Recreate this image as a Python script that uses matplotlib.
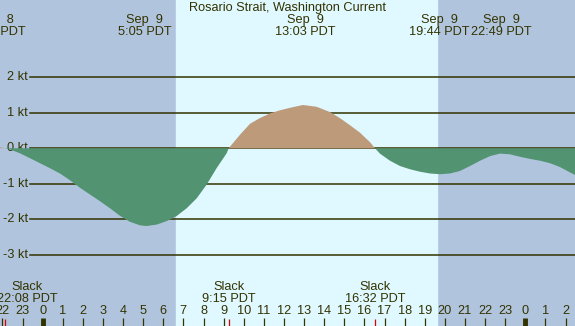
import matplotlib
matplotlib.use("Agg")
import matplotlib.pyplot as plt
import matplotlib.transforms as mtransforms
import numpy as np

plt.rcParams['font.family'] = ['Liberation Sans', 'DejaVu Sans']

title = "Rosario Strait, Washington Current"

# current speed (kt), hours since midnight Sep 9 (PDT)
hours = [-2.12, -1.87, -1.63, -1.13, -0.63, -0.13, 0.36, 0.86, 1.36, 1.85,
         2.35, 2.85, 3.35, 3.84, 4.34, 4.84, 5.17, 5.67, 6.17, 6.66,
         7.16, 7.66, 8.16, 8.65, 9.15, 9.25, 9.81, 10.31, 10.8, 11.3,
         11.8, 12.3, 12.94, 13.62, 14.29, 14.78, 15.28, 15.78, 16.28, 16.53,
         16.77, 17.27, 17.77, 18.26, 18.76, 19.26, 19.76, 20.25, 20.75, 21.25,
         21.75, 22.25, 22.74, 23.24, 23.74, 24.24, 24.73, 25.23, 25.73, 26.22,
         26.47]
speed = [0.03, 0.0, -0.03, -0.14, -0.28, -0.42, -0.56, -0.71, -0.90, -1.11,
         -1.30, -1.49, -1.69, -1.90, -2.07, -2.17, -2.19, -2.15, -2.05, -1.91,
         -1.69, -1.41, -1.02, -0.56, -0.14, 0.0, 0.38, 0.69, 0.85, 0.98,
         1.07, 1.14, 1.22, 1.17, 1.02, 0.85, 0.65, 0.44, 0.17, 0.0,
         -0.15, -0.35, -0.50, -0.59, -0.66, -0.71, -0.73, -0.71, -0.64, -0.50,
         -0.35, -0.22, -0.15, -0.17, -0.24, -0.30, -0.35, -0.42, -0.53, -0.68,
         -0.75]

# max ebb / flood events shown at the top
event_hours = [-2.35, 5.083, 13.05, 19.733, 22.817]
event_dates = ["Sep  8", "Sep  9", "Sep  9", "Sep  9", "Sep  9"]
event_times = ["21:39 PDT", "5:05 PDT", "13:03 PDT", "19:44 PDT", "22:49 PDT"]

# slack water
slack_hours = [-1.867, 9.25, 16.533]
slack_times = ["22:08 PDT", "9:15 PDT", "16:32 PDT"]

sunrise, sunset = 6.63, 19.6
hour_ticks = list(range(-2, 27))
hour_labels = [str(h % 24) for h in hour_ticks]
kt_levels = [2, 1, 0, -1, -2, -3]

night = "#b0c4de"
day = "#e0f8ff"
ebb = "#529471"
flood = "#bd9b7a"
ink = "#333300"
fs = 9.2

W, H = 575, 326
fig = plt.figure(figsize=(W / 100, H / 100), dpi=100)
ax = fig.add_axes([0, 0, 1, 1])
ax.set_xlim(-2.12, 26.47)
ax.set_ylim(-5.006, 4.177)
ax.axis('off')
fig.patch.set_facecolor(night)

# day / night background
ax.axvspan(-3, 30, color=night, zorder=0)
ax.axvspan(sunrise, sunset, color=day, zorder=0.5)

# x in data, y in pixels from top
trans = mtransforms.blended_transform_factory(ax.transData, ax.transAxes)
ytrans = mtransforms.blended_transform_factory(ax.transAxes, ax.transData)
def yfrac(px):
    return 1 - px / H

for lvl in kt_levels:
    ax.axhline(lvl, xmin=30 / W, xmax=1, color=ink, lw=1.1, zorder=1)
    ax.text(28 / W, lvl, "%d kt" % lvl, transform=ytrans,
            ha='right', va='center', fontsize=fs, color=ink, zorder=1)

t = np.array(hours)
v = np.array(speed)
ax.fill_between(t, v, 0, where=v <= 0, interpolate=True, color=ebb, lw=0, zorder=2)
ax.fill_between(t, v, 0, where=v >= 0, interpolate=True, color=flood, lw=0, zorder=2)

# title and event labels
fig.text(0.5, yfrac(8), title, ha='center', va='center', fontsize=fs, color=ink)
for h, d, tm in zip(event_hours, event_dates, event_times):
    ax.text(h, yfrac(20), d, transform=trans, ha='center', va='center', fontsize=fs, color=ink)
    ax.text(h, yfrac(32), tm, transform=trans, ha='center', va='center', fontsize=fs, color=ink)

# slack labels, kept inside the left edge
for h, tm in zip(slack_hours, slack_times):
    hx = max(h, -0.78)
    ax.text(hx, yfrac(287), "Slack", transform=trans, ha='center', va='center', fontsize=fs, color=ink)
    ax.text(hx, yfrac(299), tm, transform=trans, ha='center', va='center', fontsize=fs, color=ink)

# hour ticks along the bottom
for h, lab in zip(hour_ticks, hour_labels):
    ax.text(h, yfrac(311.5), lab, transform=trans, ha='center', va='center', fontsize=fs, color=ink)
    lw = 3.5 if h % 24 == 0 else 0.9
    ax.plot([h, h], [0, 8 / H], transform=trans, color=ink, lw=lw, solid_capstyle='butt', zorder=3)
for h in slack_hours:
    ax.plot([h, h], [0, 7 / H], transform=trans, color="#dd0000", lw=0.9, solid_capstyle='butt', zorder=3)

fig.savefig("out.png", dpi=100, facecolor=night)
